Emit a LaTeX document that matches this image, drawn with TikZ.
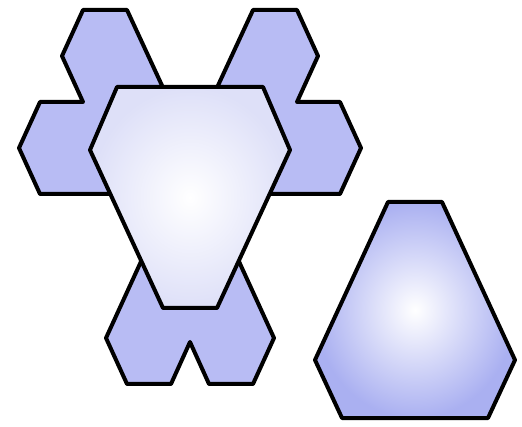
\documentclass[tikz,border=0pt]{standalone}
\usepackage{xcolor}
\usepackage{tikz}
\definecolor{hexblue}{RGB}{184,188,244}
\definecolor{paleblue}{RGB}{222,224,248}
\definecolor{edgeblue}{RGB}{170,176,241}

\begin{document}
\begin{tikzpicture}[x=1pt, y=-1pt,
      outline/.style={draw=black, line width=4pt, line join=round},
      backpiece/.style={outline, fill=hexblue},
      frontpiece/.style={outline, inner color=white, outer color=paleblue},
      loosepiece/.style={outline, inner color=white, outer color=edgeblue},
    ]
      \useasboundingbox (0,0) rectangle (522,427);
      % six hexagons round a hidden core
      \filldraw[backpiece] (83,10) -- (127,10) -- (165,92) -- (215,92)
        -- (253,10) -- (297,10) -- (318,56) -- (297,102) -- (340,102)
        -- (361,148) -- (340,194) -- (265,194) -- (236,255) -- (274,338)
        -- (253,384) -- (209,384) -- (190,342) -- (171,384) -- (127,384)
        -- (106,338) -- (144,255) -- (115,194) -- (40,194) -- (19,148)
        -- (40,102) -- (83,102) -- (62,56) -- cycle;
      % truncated triangles
      \shadedraw[frontpiece] (117,87) -- (263,87) -- (290,150) -- (217,308)
        -- (163,308) -- (90,150) -- cycle;
      \shadedraw[loosepiece] (388,202) -- (442,202) -- (515,360) -- (488,418)
        -- (342,418) -- (315,360) -- cycle;
    \end{tikzpicture}
\end{document}
